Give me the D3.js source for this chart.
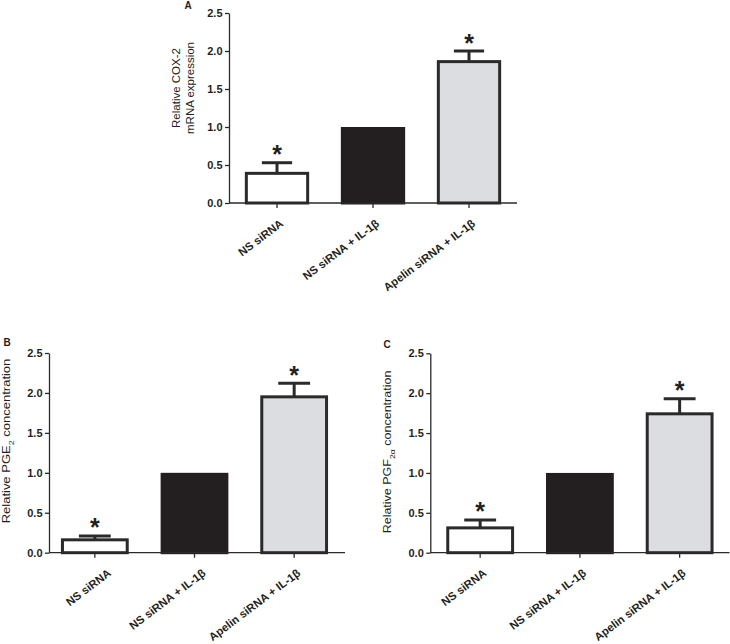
<!DOCTYPE html>
<html>
<head>
<meta charset="utf-8">
<script src="https://cdn.jsdelivr.net/npm/d3@7/dist/d3.min.js"></script>
<style>
  html, body { margin: 0; padding: 0; background: #ffffff; }
  svg { display: block; }
  text { font-family: "Liberation Sans", Arial, Helvetica, sans-serif; fill: #231f20; }
</style>
</head>
<body>
<svg id="chart" width="730" height="644"></svg>
<script>
// ---- data ----
const categories = ["NS siRNA", "NS siRNA + IL-1\u03b2", "Apelin siRNA + IL-1\u03b2"];
const yTicks = [0, 0.5, 1.0, 1.5, 2.0, 2.5];
const cox2Values = [0.41, 1.0, 1.88];
const cox2Errors = [0.12, 0, 0.12];
const pge2Values = [0.18, 1.0, 1.97];
const pge2Errors = [0.03, 0, 0.15];
const pgf2aValues = [0.33, 1.0, 1.76];
const pgf2aErrors = [0.08, 0, 0.17];
const significant = [true, false, true];
const barFills = ["#ffffff", "#231f20", "#dcdde0"];

// ---- layout ----
const panels = [
  { letter: "A", values: cox2Values, errors: cox2Errors,
    axisX: 229, range: [229, 517], xEnd: 517, yRange: [203, 13], padInner: 0.33,
    letterPos: [188, 8.5],
    label: [["Relative COX-2"], ["mRNA expression"]], labelX: [179.5, 193.5], labelY: 88,
    labelSize: 11.5, labelSquash: 0.88, xLabelShift: [0, 0, 0] },
  { letter: "B", values: pge2Values, errors: pge2Errors,
    axisX: 49, range: [45, 344], xEnd: 345, yRange: [552.7, 353], padInner: 0.32,
    letterPos: [7, 346],
    label: [[["Relative PGE", false], ["2", true], [" concentration", false]]], labelX: [9.5], labelY: 441,
    labelSize: 13, labelSquash: 0.8, xLabelShift: [10, 5, 0] },
  { letter: "C", values: pgf2aValues, errors: pgf2aErrors,
    axisX: 430.3, range: [430.3, 729.5], xEnd: 729.5, yRange: [552.7, 353.3], padInner: 0.32,
    letterPos: [387, 348],
    label: [[["Relative PGF", false], ["2\u03b1", true], [" concentration", false]]], labelX: [390.5], labelY: 452,
    labelSize: 12.5, labelSquash: 0.82, xLabelShift: [0, 0, 0] }
];

const svg = d3.select("#chart");
const ink = "#2a2a2a";
const sw = 3;

panels.forEach(p => {
  const g = svg.append("g");
  const x = d3.scaleBand().domain(categories).range(p.range)
    .paddingInner(p.padInner).paddingOuter(p.padInner / 2);
  const y = d3.scaleLinear().domain([0, 2.5]).range(p.yRange);
  const y0 = y(0);
  const bw = x.bandwidth();

  // bars
  g.selectAll("rect.bar").data(p.values).join("rect")
    .attr("class", "bar")
    .attr("x", (d, i) => x(categories[i]) + sw / 2)
    .attr("width", bw - sw)
    .attr("y", d => y(d) + sw / 2)
    .attr("height", d => y0 - y(d) - sw / 2)
    .attr("fill", (d, i) => barFills[i])
    .attr("stroke", (d, i) => i === 1 ? barFills[1] : ink)
    .attr("stroke-width", sw);

  // error bars (upper only)
  p.values.forEach((v, i) => {
    const e = p.errors[i];
    const cx = x(categories[i]) + bw / 2;
    if (e > 0) {
      const hw = bw * 0.235;
      g.append("line").attr("x1", cx).attr("x2", cx)
        .attr("y1", y(v) + sw / 2).attr("y2", y(v + e))
        .attr("stroke", ink).attr("stroke-width", sw);
      g.append("line").attr("x1", cx - hw).attr("x2", cx + hw)
        .attr("y1", y(v + e)).attr("y2", y(v + e))
        .attr("stroke", ink).attr("stroke-width", sw);
    }
    if (significant[i]) {
      g.append("text").attr("x", cx).attr("y", y(v + e) + 0.5)
        .attr("text-anchor", "middle")
        .style("font-size", "25px").style("font-weight", "bold")
        .text("*");
    }
  });

  // y axis
  const yAxis = d3.axisLeft(y).tickValues(yTicks).tickFormat(d3.format(".1f"))
    .tickSize(4).tickPadding(2.5).tickSizeOuter(0);
  const ga = g.append("g").attr("transform", `translate(${p.axisX},0)`).call(yAxis);
  ga.select(".domain").attr("stroke", ink).attr("stroke-width", 1.3);
  ga.selectAll(".tick line").attr("stroke", ink).attr("stroke-width", 1.3);
  ga.selectAll(".tick text").style("font-size", "11px").style("font-weight", "bold")
    .style("fill", "#231f20");

  // x axis
  const xAxis = d3.axisBottom(x).tickSize(5).tickSizeOuter(0).tickFormat("");
  const gx = g.append("g").attr("transform", `translate(0,${y0})`).call(xAxis);
  gx.select(".domain").remove();
  gx.selectAll(".tick line").attr("stroke", ink).attr("stroke-width", 1.3);
  g.append("line").attr("x1", p.axisX).attr("x2", p.xEnd).attr("y1", y0).attr("y2", y0)
    .attr("stroke", ink).attr("stroke-width", 1.3);

  // rotated category labels
  categories.forEach((c, i) => {
    const cx = x(c) + bw / 2 + 7 + p.xLabelShift[i];
    g.append("text")
      .attr("transform", `translate(${cx},${y0 + 22}) rotate(-37)`)
      .attr("text-anchor", "end")
      .style("font-size", "11.3px").style("font-weight", "bold")
      .text(c);
  });

  // y axis title
  p.label.forEach((line, li) => {
    const t = g.append("text")
      .attr("transform", `translate(${p.labelX[li]},${p.labelY}) rotate(-90) scale(1,${p.labelSquash})`)
      .attr("text-anchor", "middle")
      .style("font-size", p.labelSize + "px");
    if (typeof line[0] === "string") {
      t.text(line[0]);
    } else {
      line.forEach(seg => {
        const ts = t.append("tspan").text(seg[0]);
        if (seg[1]) ts.attr("baseline-shift", "sub").style("font-size", "70%");
      });
    }
  });

  // panel letter
  g.append("text").attr("x", p.letterPos[0]).attr("y", p.letterPos[1])
    .attr("text-anchor", "middle")
    .style("font-size", "10px").style("font-weight", "bold")
    .text(p.letter);
});
</script>
</body>
</html>
